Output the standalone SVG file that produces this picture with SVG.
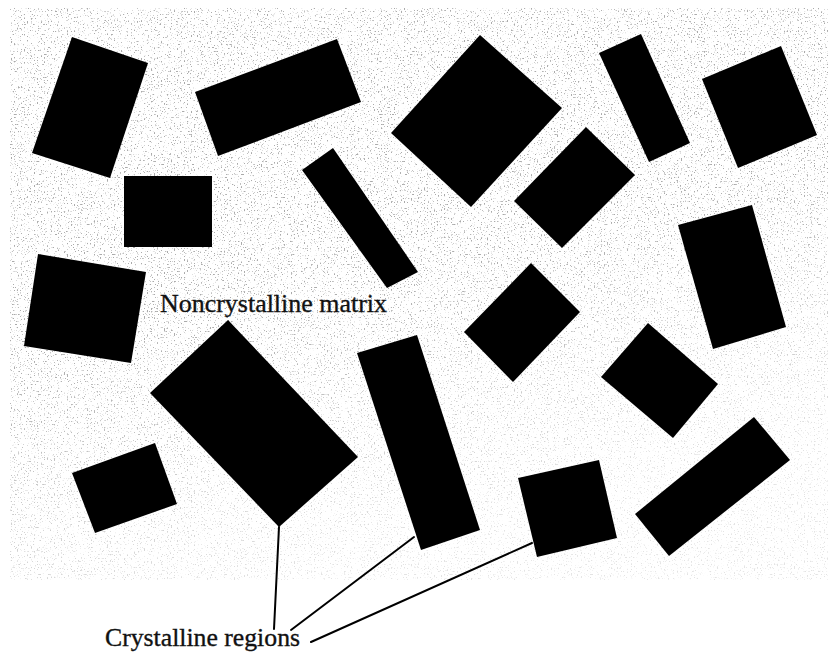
<svg xmlns="http://www.w3.org/2000/svg" width="828" height="655" viewBox="0 0 828 655">
  <defs>
    <style>
      .xtal { fill: #000; }
      .lead { stroke: #000; stroke-width: 2; fill: none; stroke-linecap: round; }
      .label { font-family: "Liberation Serif", "Times New Roman", serif; font-size: 26px; fill: #111; stroke: #111; stroke-width: 0.35; }
    </style>
    <!-- speckled halftone of the amorphous matrix -->
    <filter id="grain" x="0" y="0" width="100%" height="100%" filterUnits="objectBoundingBox">
      <feTurbulence type="fractalNoise" baseFrequency="0.7" numOctaves="1" seed="7" result="noise"/>
      <feColorMatrix in="noise" type="matrix"
        values="0 0 0 0 0.4
                0 0 0 0 0.4
                0 0 0 0 0.4
                9 0 0 0 -5.4"/>
      <feComposite in2="SourceGraphic" operator="in"/>
    </filter>
    <linearGradient id="fade" x1="0" y1="0" x2="0.35" y2="1">
      <stop offset="0" stop-color="#fff"/>
      <stop offset="0.55" stop-color="#fff"/>
      <stop offset="0.8" stop-color="#999"/>
      <stop offset="1" stop-color="#555"/>
    </linearGradient>
    <mask id="matrixMask">
      <rect x="10" y="8" width="818" height="572" fill="url(#fade)"/>
    </mask>
  </defs>

  <rect width="828" height="655" fill="#fff"/>

  <!-- noncrystalline matrix -->
  <g id="matrix" mask="url(#matrixMask)">
    <rect x="10" y="8" width="818" height="572" fill="#000" filter="url(#grain)"/>
  </g>

  <!-- crystalline regions -->
  <g id="crystal-1"><polygon class="xtal" points="72,37 148,63 110,178 32,153"/></g>
  <g id="crystal-2"><polygon class="xtal" points="195,92 337,39 361,102 218,156"/></g>
  <g id="crystal-3"><polygon class="xtal" points="124,176 212,176 212,247 124,247"/></g>
  <g id="crystal-4"><polygon class="xtal" points="302,170 333,148 418,272 387,288"/></g>
  <g id="crystal-5"><polygon class="xtal" points="38,254 146,272 131,363 24,346"/></g>
  <g id="crystal-6"><polygon class="xtal" points="480,35 562,108 471,207 391,133"/></g>
  <g id="crystal-7"><polygon class="xtal" points="586,127 635,175 562,248 514,201"/></g>
  <g id="crystal-8"><polygon class="xtal" points="599,53 641,34 690,143 649,162"/></g>
  <g id="crystal-9"><polygon class="xtal" points="702,79 781,46 817,135 738,168"/></g>
  <g id="crystal-10"><polygon class="xtal" points="678,225 752,205 786,327 713,349"/></g>
  <g id="crystal-11"><polygon class="xtal" points="531,263 580,312 513,382 464,332"/></g>
  <g id="crystal-12"><polygon class="xtal" points="648,323 718,384 673,438 601,377"/></g>
  <g id="crystal-13"><polygon class="xtal" points="754,417 790,460 669,556 635,514"/></g>
  <g id="crystal-14"><polygon class="xtal" points="518,478 599,460 617,538 537,557"/></g>
  <g id="crystal-15"><polygon class="xtal" points="357,353 417,335 480,530 421,550"/></g>
  <g id="crystal-16"><polygon class="xtal" points="228,320 358,457 279,527 150,393"/></g>
  <g id="crystal-17"><polygon class="xtal" points="72,473 155,443 177,504 95,533"/></g>

  <!-- leader lines -->
  <g id="connectors">
    <line class="lead" x1="279" y1="527" x2="274" y2="629"/>
    <line class="lead" x1="414" y1="537" x2="291" y2="630"/>
    <line class="lead" x1="532" y1="543" x2="311" y2="642"/>
  </g>

  <g id="labels">
    <text class="label" x="160" y="312" textLength="227" lengthAdjust="spacingAndGlyphs">Noncrystalline matrix</text>
    <text class="label" x="105" y="646" textLength="195" lengthAdjust="spacingAndGlyphs">Crystalline regions</text>
  </g>
</svg>
